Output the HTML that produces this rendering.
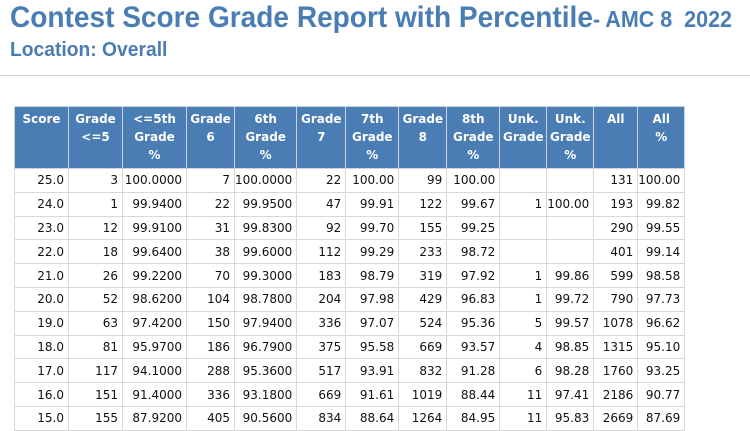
<!DOCTYPE html>
<html><head><meta charset="utf-8"><style>
body{margin:0;width:750px;height:429px;overflow:hidden;background:#fff;font-family:"DejaVu Sans",Verdana,sans-serif;}
.t{position:absolute;left:10px;top:1px;color:#4a7db3;font-family:"Liberation Sans",sans-serif;font-weight:bold;white-space:nowrap;transform:scaleX(0.935);transform-origin:left top;}
.t .a{font-size:30px;}
.t .b{font-size:23px;}
.l{position:absolute;left:10px;top:38px;color:#4a7db3;font-family:"Liberation Sans",sans-serif;font-weight:bold;font-size:20.5px;transform:scaleX(0.94);transform-origin:left top;}
.hr{position:absolute;left:0;top:75px;width:750px;height:1px;background:#d4d4d4;}
table{position:absolute;left:14px;top:106px;border-collapse:collapse;table-layout:fixed;font-size:12px;}
th{background:#4a7db3;color:#fff;font-weight:bold;vertical-align:top;text-align:center;border:1px solid #c8d4e0;height:58px;padding:3px 1px 0;line-height:18px;}
td{height:22.8px;border:1px solid #d8d8d8;text-align:right;padding:0 4px 0 0;color:#111;}
</style></head><body>
<div class="t"><span class="a">Contest Score Grade Report with Percentile</span><span class="b">- AMC 8&nbsp; 2022</span></div>
<div class="l">Location: Overall</div>
<div class="hr"></div>
<table>
<colgroup><col style="width:54px"><col style="width:54px"><col style="width:64px"><col style="width:48px"><col style="width:62px"><col style="width:49px"><col style="width:53px"><col style="width:48px"><col style="width:53px"><col style="width:47px"><col style="width:47px"><col style="width:44px"><col style="width:46px"></colgroup>
<tr><th>Score</th><th>Grade<br>&lt;=5</th><th>&lt;=5th<br>Grade<br>%</th><th>Grade<br>6</th><th>6th<br>Grade<br>%</th><th>Grade<br>7</th><th>7th<br>Grade<br>%</th><th>Grade<br>8</th><th>8th<br>Grade<br>%</th><th>Unk.<br>Grade</th><th>Unk.<br>Grade<br>%</th><th>All</th><th>All<br>%</th></tr>
<tr><td>25.0</td><td>3</td><td>100.0000</td><td>7</td><td>100.0000</td><td>22</td><td>100.00</td><td>99</td><td>100.00</td><td></td><td></td><td>131</td><td>100.00</td></tr>
<tr><td>24.0</td><td>1</td><td>99.9400</td><td>22</td><td>99.9500</td><td>47</td><td>99.91</td><td>122</td><td>99.67</td><td>1</td><td>100.00</td><td>193</td><td>99.82</td></tr>
<tr><td>23.0</td><td>12</td><td>99.9100</td><td>31</td><td>99.8300</td><td>92</td><td>99.70</td><td>155</td><td>99.25</td><td></td><td></td><td>290</td><td>99.55</td></tr>
<tr><td>22.0</td><td>18</td><td>99.6400</td><td>38</td><td>99.6000</td><td>112</td><td>99.29</td><td>233</td><td>98.72</td><td></td><td></td><td>401</td><td>99.14</td></tr>
<tr><td>21.0</td><td>26</td><td>99.2200</td><td>70</td><td>99.3000</td><td>183</td><td>98.79</td><td>319</td><td>97.92</td><td>1</td><td>99.86</td><td>599</td><td>98.58</td></tr>
<tr><td>20.0</td><td>52</td><td>98.6200</td><td>104</td><td>98.7800</td><td>204</td><td>97.98</td><td>429</td><td>96.83</td><td>1</td><td>99.72</td><td>790</td><td>97.73</td></tr>
<tr><td>19.0</td><td>63</td><td>97.4200</td><td>150</td><td>97.9400</td><td>336</td><td>97.07</td><td>524</td><td>95.36</td><td>5</td><td>99.57</td><td>1078</td><td>96.62</td></tr>
<tr><td>18.0</td><td>81</td><td>95.9700</td><td>186</td><td>96.7900</td><td>375</td><td>95.58</td><td>669</td><td>93.57</td><td>4</td><td>98.85</td><td>1315</td><td>95.10</td></tr>
<tr><td>17.0</td><td>117</td><td>94.1000</td><td>288</td><td>95.3600</td><td>517</td><td>93.91</td><td>832</td><td>91.28</td><td>6</td><td>98.28</td><td>1760</td><td>93.25</td></tr>
<tr><td>16.0</td><td>151</td><td>91.4000</td><td>336</td><td>93.1800</td><td>669</td><td>91.61</td><td>1019</td><td>88.44</td><td>11</td><td>97.41</td><td>2186</td><td>90.77</td></tr>
<tr><td>15.0</td><td>155</td><td>87.9200</td><td>405</td><td>90.5600</td><td>834</td><td>88.64</td><td>1264</td><td>84.95</td><td>11</td><td>95.83</td><td>2669</td><td>87.69</td></tr>
</table>
</body></html>
